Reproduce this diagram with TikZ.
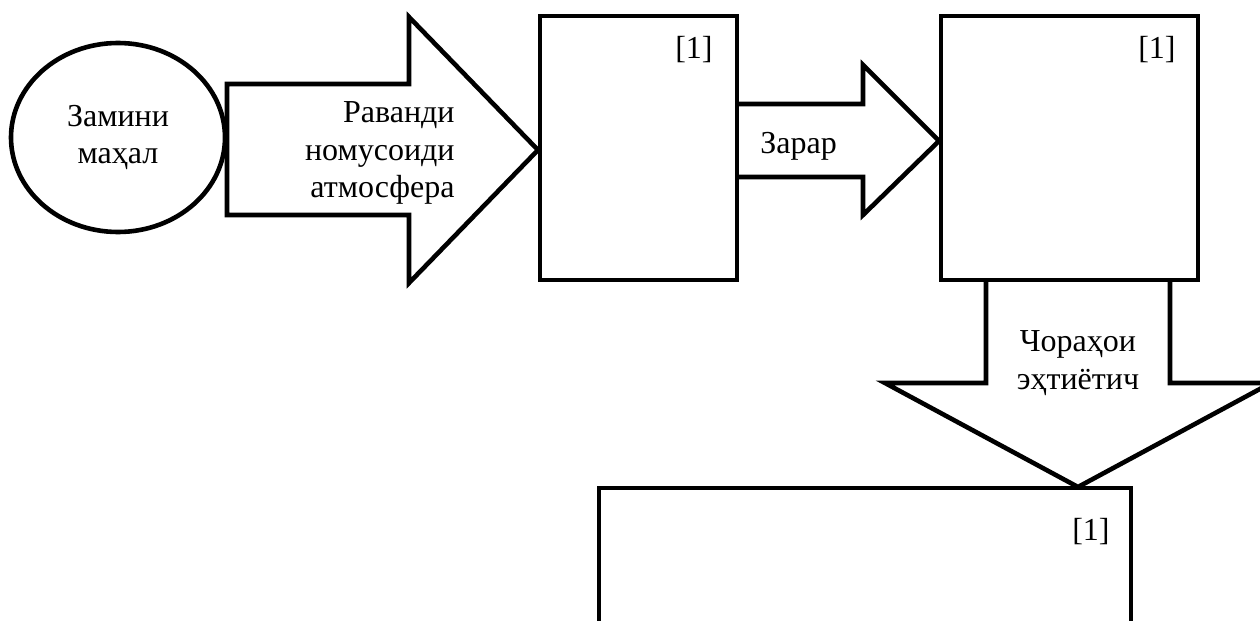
\documentclass[tikz,border=0pt]{standalone}
\usepackage{fontspec}
\setmainfont{Liberation Serif}
\newfontfamily\tjfont{Liberation Serif}
\usetikzlibrary{positioning, shapes.geometric}
\tikzset{
  figline/.style={draw=black, line width=2.3pt},
  figbox/.style={figline, rectangle, inner sep=0pt, outer sep=0pt, anchor=north west},
  figtext/.style={font=\tjfont\fontsize{16}{18.75}\selectfont, inner sep=0pt},
  figref/.style={figtext, anchor=base east},
}

\begin{document}
\begin{tikzpicture}[x=0.5pt, y=-0.5pt]
  \useasboundingbox (0,0) rectangle (1260,621);
  % Ausgangspunkt
  \node[figline, ellipse, minimum width=107pt, minimum height=94.5pt, inner sep=0pt,
    align=center, figtext] (zamin) at (118,137.5) {Замини\\маҳал};
  % Kaesten
  \node[figbox, minimum width=98.5pt, minimum height=132pt] (box1) at (540,16) {};
  \node[figbox, minimum width=128.5pt, minimum height=132pt] (box2) at (941,16) {};
  \node[figbox, minimum width=266pt, minimum height=110pt] (box3) at (599,488) {};
  \node[figref] (ref1) at (713,58) {[1]};
  \node[figref] (ref2) at (1176,58) {[1]};
  \node[figref] (ref3) at (1110,540) {[1]};
  % Blockpfeile
  \draw[figline] (227,84) -- (409,84) -- (409,17) -- (538,150) -- (409,283)
    -- (409,215) -- (227,215) -- cycle;
  \draw[figline] (737,104) -- (863,104) -- (863,65) -- (939,141) -- (863,215)
    -- (863,177) -- (737,177);
  \draw[figline] (986,280) -- (986,383) -- (885,383) -- (1078,487) -- (1271,383)
    -- (1170,383) -- (1170,280);
  \node[figtext, align=right, anchor=east] (ravand) at (455,153)
    {Раванди\\номусоиди\\атмосфера};
  \node[figtext, anchor=base west] (zarar) at (760,153) {Зарар};
  \node[figtext, align=center] (chora) at (1078,363) {Чораҳои\\эҳтиётич};
\end{tikzpicture}
\end{document}
